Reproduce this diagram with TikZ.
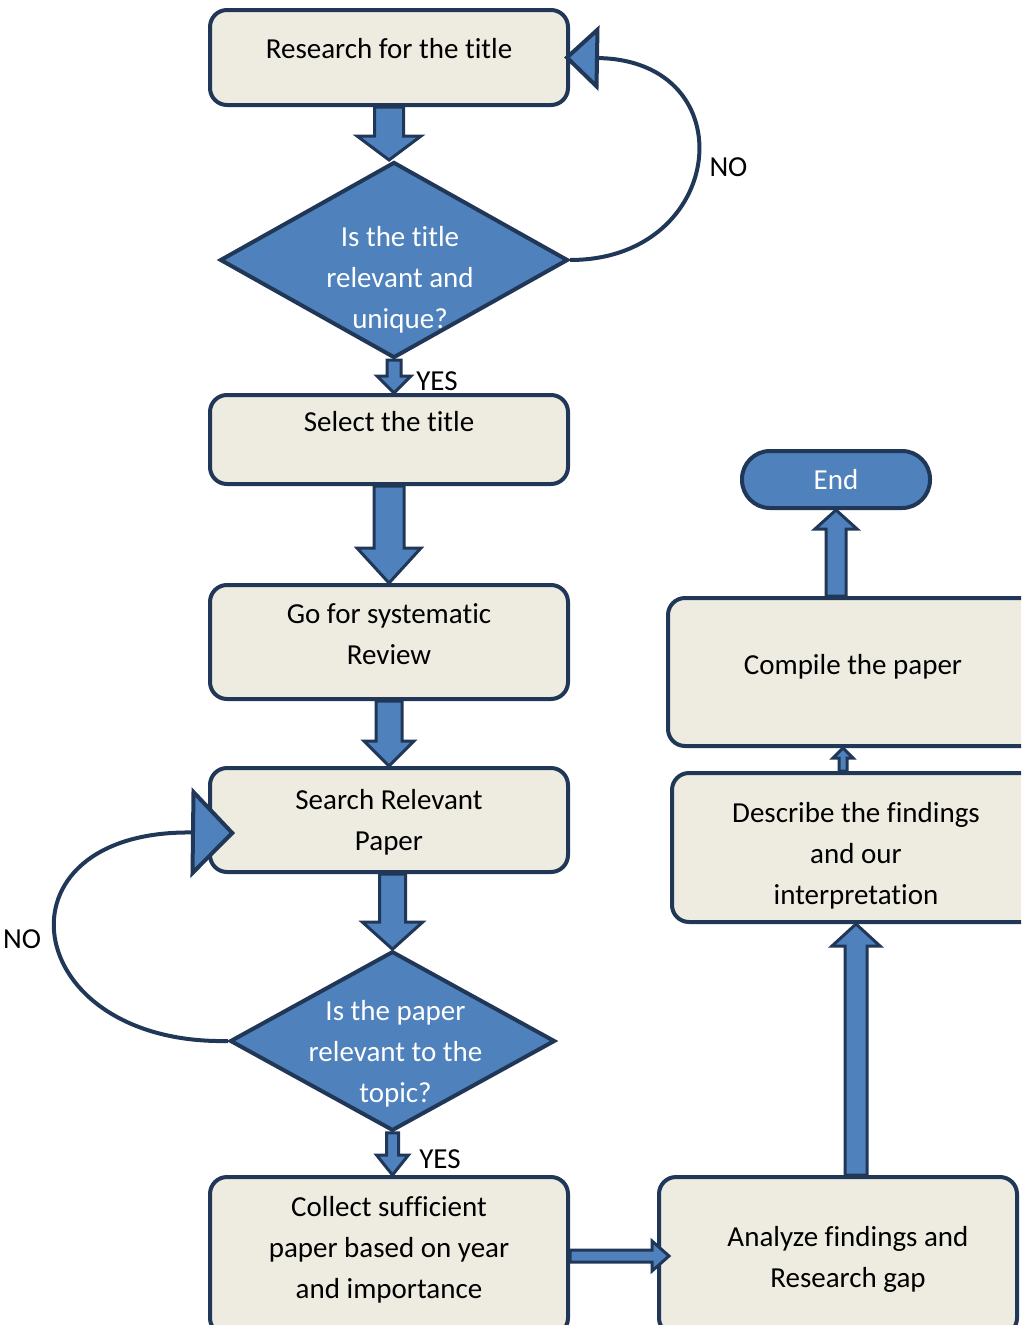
\documentclass[tikz,border=0pt]{standalone}
\usepackage{fontspec}
\setmainfont{Carlito}[Ligatures=NoCommon]
\usetikzlibrary{shapes.geometric,arrows.meta,calc}
\definecolor{navyline}{RGB}{33,55,87}
\definecolor{flowblue}{RGB}{79,129,189}
\definecolor{paperfill}{RGB}{238,236,225}
\tikzset{
  chart font/.style={font={\fontsize{29}{41}\selectfont}},
  process box/.style={chart font, rectangle, rounded corners=17pt, draw=navyline,
    line width=4pt, fill=paperfill, inner sep=0pt},
  decision/.style={chart font, diamond, draw=navyline, line width=4pt,
    fill=flowblue, text=white, inner sep=0pt},
  terminal/.style={chart font, rectangle, rounded corners=28pt, draw=navyline,
    line width=4pt, fill=flowblue, text=white, inner sep=0pt},
  flow arrow/.style={draw=navyline, fill=flowblue, line width=3pt, line join=miter},
  loop line/.style 2 args={draw=navyline, line width=4pt,
    -{Triangle[length=#1,width=#2,fill=flowblue]}},
  branch label/.style={chart font, inner sep=0pt},
}
% text of a box, raised by #1
\newcommand{\boxtext}[2][0pt]{\raisebox{#1}[0pt][0pt]{\begin{tabular}{@{}c@{}}#2\end{tabular}}}
% block arrow: from, to, half shaft, half head, head length
\newcommand{\flowarrow}[5]{%
  \coordinate (head base) at ($(#2)!#5!(#1)$);
  \path[flow arrow] ($(#1)!#3!90:(#2)$) -- ($(head base)!#3!90:(#2)$)
    -- ($(head base)!#4!90:(#2)$) -- (#2)
    -- ($(head base)!#4!-90:(#2)$) -- ($(head base)!#3!-90:(#2)$)
    -- ($(#1)!#3!-90:(#2)$) -- cycle;
}
\begin{document}
\begin{tikzpicture}[x=1pt,y=-1pt]
\useasboundingbox (0,0) rectangle (1021,1325);
\clip (0,0) rectangle (1021,1325);

% left column
\node[process box, minimum width=358pt, minimum height=95pt] (research) at (389,57.5)
  {\boxtext[1pt]{Research for the title}};
\node[decision, minimum width=348pt, minimum height=196pt] (dtitle) at (394,260)
  {\kern12pt\boxtext[-26pt]{Is the title\\relevant and\\unique?}};
\node[process box, minimum width=358pt, minimum height=89pt] (select) at (389,439.5)
  {\boxtext[9.5pt]{Select the title}};
\node[process box, minimum width=358pt, minimum height=114pt] (review) at (389,642)
  {\boxtext[0pt]{Go for systematic\\Review}};
\node[process box, minimum width=358pt, minimum height=104pt] (search) at (389,820)
  {\boxtext[-8pt]{Search Relevant\\Paper}};
\node[decision, minimum width=325pt, minimum height=178pt] (dpaper) at (392.5,1041)
  {\kern6pt\boxtext[-19pt]{Is the paper\\relevant to the\\topic?}};
\node[process box, minimum width=358pt, minimum height=158pt] (collect) at (389,1256)
  {\boxtext[0.5pt]{Collect sufficient\\paper based on year\\and importance}};

% right column
\node[process box, minimum width=358pt, minimum height=158pt] (analyze) at (838,1256)
  {\kern20pt\boxtext[-9pt]{Analyze findings and\\Research gap}};
\node[process box, minimum width=368pt, minimum height=149pt] (describe) at (856,847.5)
  {\boxtext[-14pt]{Describe the findings\\and our\\interpretation}};
\node[process box, minimum width=370pt, minimum height=148pt] (compile) at (853,672)
  {\boxtext[-1pt]{Compile the paper}};
\node[terminal, minimum width=188pt, minimum height=57pt] (finish) at (836,479.5)
  {\boxtext[-8pt]{End}};

% block arrows
\flowarrow{research.south}{research.south |- dtitle.north}{14.5pt}{32pt}{24pt}
\flowarrow{dtitle.south}{dtitle.south |- select.north}{7pt}{17pt}{17pt}
\flowarrow{select.south}{review.north}{15pt}{32pt}{35pt}
\flowarrow{review.south}{search.north}{13pt}{25pt}{25pt}
\flowarrow{dpaper.north |- search.south}{dpaper.north}{13pt}{30pt}{27pt}
\flowarrow{dpaper.south}{dpaper.south |- collect.north}{6pt}{16pt}{20pt}
\coordinate (into) at ([xshift=12pt]analyze.west);
\flowarrow{collect.east}{into |- collect.east}{6pt}{15pt}{17pt}
\flowarrow{describe.south |- analyze.north}{describe.south}{11pt}{24pt}{22pt}
\coordinate (up) at ([xshift=-13pt]describe.north);
\flowarrow{up}{up |- compile.south}{4pt}{10pt}{10pt}
\flowarrow{finish.south |- compile.north}{finish.south}{10pt}{21pt}{19pt}

% NO loops
\draw[loop line={35pt}{65pt}] (dtitle.east) .. controls +(157,0) and +(183,3) ..
  ([xshift=-6pt]research.east)
  node[pos=.5, branch label, anchor=west, xshift=13pt, yshift=-7pt] (no1) {NO};
\draw[loop line={44pt}{90pt}] (dpaper.west) .. controls +(-210,4) and +(-247,-3) ..
  ([xshift=27pt,yshift=-13pt]search.west)
  node[pos=.5, branch label, anchor=east, xshift=-17pt, yshift=-2pt] (no2) {NO};

\node[branch label] (yes1) at (437,381) {YES};
\node[branch label] (yes2) at (440,1159) {YES};
\end{tikzpicture}
\end{document}
